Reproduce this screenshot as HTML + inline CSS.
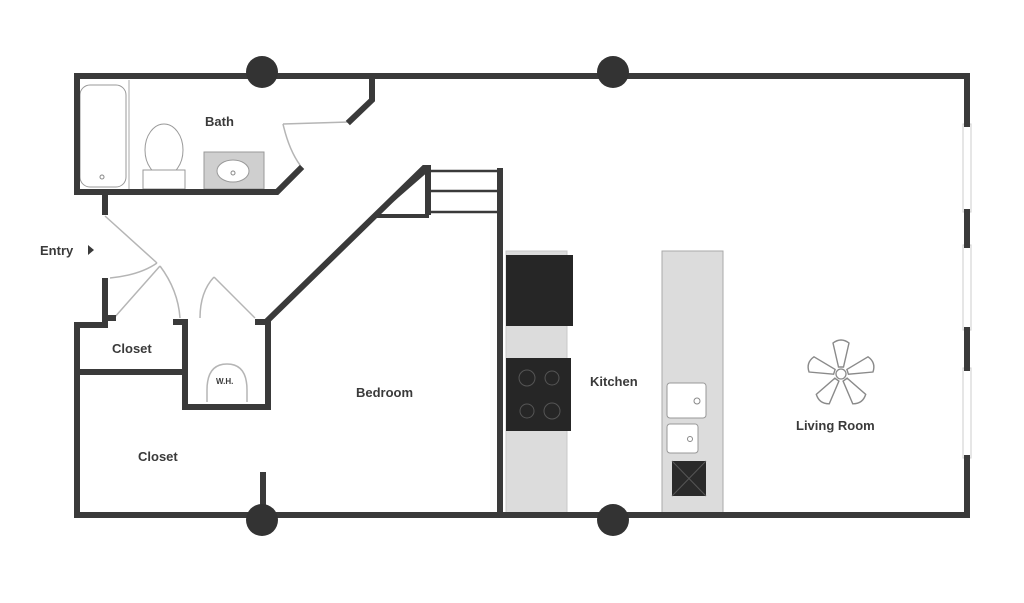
<!DOCTYPE html>
<html><head><meta charset="utf-8"><style>
html,body{margin:0;padding:0;background:#fff;}
svg{display:block;}
text{font-family:"Liberation Sans",sans-serif;font-weight:bold;fill:#3a3a3a;font-size:13px;}
</style></head><body>
<svg width="1024" height="603" viewBox="0 0 1024 603" xmlns="http://www.w3.org/2000/svg">
<defs>
<g id="blade"><path d="M-2.5,-7 L-8,-31 Q0,-37 8,-31 L2.5,-7 Z" fill="#fff" stroke="#8a8a8a" stroke-width="1.4"/></g>
</defs>
<rect x="506" y="251" width="61" height="262" fill="#dcdcdc" stroke="#c8c8c8"/>
<rect x="506" y="255" width="67" height="71" fill="#262626"/>
<rect x="506" y="358" width="65" height="73" fill="#262626"/>
<g fill="none" stroke="#555" stroke-width="1">
<circle cx="527" cy="378" r="8"/><circle cx="552" cy="378" r="7"/>
<circle cx="527" cy="411" r="7"/><circle cx="552" cy="411" r="8"/></g>
<rect x="662" y="251" width="61" height="262" fill="#dcdcdc" stroke="#aaa"/>
<rect x="667" y="383" width="39" height="35" rx="3" fill="#fff" stroke="#999"/>
<circle cx="697" cy="401" r="3" fill="none" stroke="#888"/>
<rect x="667" y="424" width="31" height="29" rx="3" fill="#fff" stroke="#999"/>
<circle cx="690" cy="439" r="2.5" fill="none" stroke="#888"/>
<rect x="672" y="461" width="34" height="35" fill="#2a2a2a"/>
<path d="M672,461 L706,496 M706,461 L672,496" stroke="#555" stroke-width="1"/>
<rect x="80" y="85" width="46" height="102" rx="10" fill="#fff" stroke="#999" stroke-width="1"/>
<line x1="129" y1="80" x2="129" y2="190" stroke="#aaa"/>
<circle cx="102" cy="177" r="2" fill="none" stroke="#888"/>
<ellipse cx="164" cy="150" rx="19" ry="26" fill="#fff" stroke="#999"/>
<rect x="143" y="170" width="42" height="19" fill="#fff" stroke="#999"/>
<rect x="204" y="152" width="60" height="37" fill="#cfcfcf" stroke="#999"/>
<ellipse cx="233" cy="171" rx="16" ry="11" fill="#fff" stroke="#999"/>
<circle cx="233" cy="173" r="2" fill="none" stroke="#888"/>
<g fill="none" stroke="#b5b5b5" stroke-width="1.5">
<line x1="283" y1="124" x2="349" y2="122"/>
<path d="M283,124 Q289,150 300,165"/>
<line x1="105" y1="216" x2="157" y2="263"/>
<path d="M110,278 Q140,275 157,263"/>
<line x1="114" y1="318" x2="160" y2="266"/>
<path d="M160,266 Q178,290 180,318"/>
<line x1="214" y1="277" x2="255" y2="318"/>
<path d="M214,277 Q200,292 200,318"/>
<path d="M207,402 L207,390 Q207,364 227,364 Q247,364 247,390 L247,402"/>
</g>
<g fill="#fff" stroke="#ccc" stroke-width="1">
<rect x="963" y="124" width="8" height="88"/><rect x="963" y="245" width="8" height="85"/><rect x="963" y="368" width="8" height="90"/></g>
<g fill="none" stroke="#3a3a3a" stroke-width="6" stroke-linecap="square" stroke-linejoin="miter">
<polyline points="77,192 77,76 967,76 967,124"/>
<line x1="967" y1="212" x2="967" y2="245"/>
<line x1="967" y1="330" x2="967" y2="368"/>
<polyline points="967,458 967,515 77,515 77,325 105,325 105,281"/>
<polyline points="77,192 277,192 300,169"/>
<polyline points="372,79 372,100 350,121"/>
<line x1="105" y1="192" x2="105" y2="212"/>
<line x1="105" y1="318" x2="113" y2="318"/>
<line x1="80" y1="372" x2="185" y2="372"/>
<polyline points="176,322 185,322 185,407 268,407 268,322 258,322"/>
<polyline points="268,320 424,168 428,168 428,212"/>
<line x1="500" y1="171" x2="500" y2="515"/>
<line x1="263" y1="475" x2="263" y2="515"/>
</g>
<polygon points="374,216 427,170 427,216" fill="none" stroke="#3a3a3a" stroke-width="4"/>
<g stroke="#3a3a3a" stroke-width="2.5">
<line x1="430" y1="171" x2="498" y2="171"/><line x1="430" y1="191" x2="498" y2="191"/><line x1="430" y1="212" x2="498" y2="212"/></g>
<g fill="#333"><circle cx="262" cy="72" r="16"/><circle cx="613" cy="72" r="16"/><circle cx="262" cy="520" r="16"/><circle cx="613" cy="520" r="16"/></g>
<g transform="translate(841,374)">
<use href="#blade"/><use href="#blade" transform="rotate(72)"/><use href="#blade" transform="rotate(144)"/><use href="#blade" transform="rotate(216)"/><use href="#blade" transform="rotate(288)"/>
<circle r="5" fill="#fff" stroke="#8a8a8a" stroke-width="1.3"/>
</g>
<text x="205" y="126">Bath</text>
<text x="40" y="255">Entry</text>
<path d="M88,245 L94,250 L88,255 Z" fill="#3a3a3a"/>
<text x="112" y="353">Closet</text>
<text x="216" y="384" style="font-size:8px">W.H.</text>
<text x="356" y="397">Bedroom</text>
<text x="138" y="461">Closet</text>
<text x="590" y="386">Kitchen</text>
<text x="796" y="430">Living Room</text>
</svg>
</body></html>
